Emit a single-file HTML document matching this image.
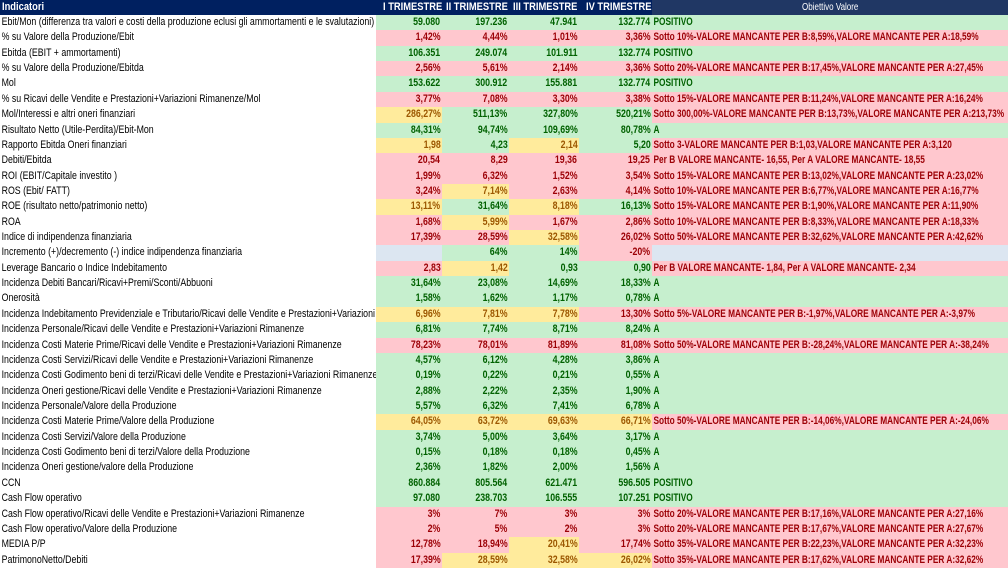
<!DOCTYPE html>
<html><head><meta charset="utf-8"><style>
body{margin:0;width:1008px;height:567px;overflow:hidden;background:#fff;font-family:"Liberation Sans",sans-serif;font-size:11px}
.h{position:absolute;left:0;top:0;width:1008px;height:15px;background:#002060;color:#fff;font-weight:bold}
.h div{position:absolute;top:0;height:15px;line-height:15px;white-space:nowrap}
.r{position:relative;height:15.37px;line-height:15.37px;white-space:nowrap}
.r>div{position:absolute;top:0;height:100%;overflow:visible}
.l{left:0;width:376px}
.c1{left:376px;width:66px}.c2{left:442px;width:67px}.c3{left:509px;width:70px}.c4{left:579px;width:73px}
.o{left:652px;width:356px}
.n{text-align:right;font-weight:bold}
.n span{display:inline-block;transform:scaleX(.8);transform-origin:right;padding-right:2px}
.l span,.o span{display:inline-block;transform:scaleX(.8);transform-origin:left;padding-left:2px}
.o span{font-weight:bold;transform:scaleX(.755)}
.G{background:#c6efce;color:#006100}.R{background:#ffc7ce;color:#9c0006}.Y{background:#ffeb9c;color:#9c5700}.B{background:#dce6f1}
#rows{position:absolute;top:15px;left:0;width:1008px}
</style></head><body>
<div class="h">
<div style="left:383px;transform:scaleX(.85);transform-origin:left">I TRIMESTRE</div>
<div style="left:2px;transform:scaleX(.85);transform-origin:left">Indicatori</div>
<div style="left:446px;transform:scaleX(.85);transform-origin:left">II TRIMESTRE</div>
<div style="left:513px;transform:scaleX(.85);transform-origin:left">III TRIMESTRE</div>
<div style="left:586px;transform:scaleX(.85);transform-origin:left">IV TRIMESTRE</div>
<div style="left:652px;width:356px;background:#203764;text-align:center;font-weight:normal;font-size:10px"><span style="display:inline-block;transform:scaleX(.8)">Obiettivo Valore</span></div>
</div>
<div id="rows">
<div class="r"><div class="l"><span>Ebit/Mon (differenza tra valori e costi della produzione eclusi gli ammortamenti e le svalutazioni)</span></div><div class="c1 n G"><span>59.080</span></div><div class="c2 n G"><span>197.236</span></div><div class="c3 n G"><span>47.941</span></div><div class="c4 n G"><span>132.774</span></div><div class="o G"><span>POSITIVO</span></div></div>
<div class="r"><div class="l"><span>% su Valore della Produzione/Ebit</span></div><div class="c1 n R"><span>1,42%</span></div><div class="c2 n R"><span>4,44%</span></div><div class="c3 n R"><span>1,01%</span></div><div class="c4 n R"><span>3,36%</span></div><div class="o R"><span>Sotto 10%-VALORE MANCANTE PER B:8,59%,VALORE MANCANTE PER A:18,59%</span></div></div>
<div class="r"><div class="l"><span>Ebitda (EBIT + ammortamenti)</span></div><div class="c1 n G"><span>106.351</span></div><div class="c2 n G"><span>249.074</span></div><div class="c3 n G"><span>101.911</span></div><div class="c4 n G"><span>132.774</span></div><div class="o G"><span>POSITIVO</span></div></div>
<div class="r"><div class="l"><span>% su Valore della Produzione/Ebitda</span></div><div class="c1 n R"><span>2,56%</span></div><div class="c2 n R"><span>5,61%</span></div><div class="c3 n R"><span>2,14%</span></div><div class="c4 n R"><span>3,36%</span></div><div class="o R"><span>Sotto 20%-VALORE MANCANTE PER B:17,45%,VALORE MANCANTE PER A:27,45%</span></div></div>
<div class="r"><div class="l"><span>Mol</span></div><div class="c1 n G"><span>153.622</span></div><div class="c2 n G"><span>300.912</span></div><div class="c3 n G"><span>155.881</span></div><div class="c4 n G"><span>132.774</span></div><div class="o G"><span>POSITIVO</span></div></div>
<div class="r"><div class="l"><span>% su Ricavi delle Vendite e Prestazioni+Variazioni Rimanenze/Mol</span></div><div class="c1 n R"><span>3,77%</span></div><div class="c2 n R"><span>7,08%</span></div><div class="c3 n R"><span>3,30%</span></div><div class="c4 n R"><span>3,38%</span></div><div class="o R"><span>Sotto 15%-VALORE MANCANTE PER B:11,24%,VALORE MANCANTE PER A:16,24%</span></div></div>
<div class="r"><div class="l"><span>Mol/Interessi e altri oneri finanziari</span></div><div class="c1 n Y"><span>286,27%</span></div><div class="c2 n G"><span>511,13%</span></div><div class="c3 n G"><span>327,80%</span></div><div class="c4 n G"><span>520,21%</span></div><div class="o R"><span>Sotto 300,00%-VALORE MANCANTE PER B:13,73%,VALORE MANCANTE PER A:213,73%</span></div></div>
<div class="r"><div class="l"><span>Risultato Netto (Utile-Perdita)/Ebit-Mon</span></div><div class="c1 n G"><span>84,31%</span></div><div class="c2 n G"><span>94,74%</span></div><div class="c3 n G"><span>109,69%</span></div><div class="c4 n G"><span>80,78%</span></div><div class="o G"><span>A</span></div></div>
<div class="r"><div class="l"><span>Rapporto Ebitda Oneri finanziari</span></div><div class="c1 n Y"><span>1,98</span></div><div class="c2 n G"><span>4,23</span></div><div class="c3 n Y"><span>2,14</span></div><div class="c4 n G"><span>5,20</span></div><div class="o R"><span>Sotto 3-VALORE MANCANTE PER B:1,03,VALORE MANCANTE PER A:3,120</span></div></div>
<div class="r"><div class="l"><span>Debiti/Ebitda</span></div><div class="c1 n R"><span>20,54</span></div><div class="c2 n R"><span>8,29</span></div><div class="c3 n R"><span>19,36</span></div><div class="c4 n R"><span>19,25</span></div><div class="o R"><span>Per B VALORE MANCANTE- 16,55, Per A VALORE MANCANTE- 18,55</span></div></div>
<div class="r"><div class="l"><span>ROI (EBIT/Capitale investito )</span></div><div class="c1 n R"><span>1,99%</span></div><div class="c2 n R"><span>6,32%</span></div><div class="c3 n R"><span>1,52%</span></div><div class="c4 n R"><span>3,54%</span></div><div class="o R"><span>Sotto 15%-VALORE MANCANTE PER B:13,02%,VALORE MANCANTE PER A:23,02%</span></div></div>
<div class="r"><div class="l"><span>ROS (Ebit/ FATT)</span></div><div class="c1 n R"><span>3,24%</span></div><div class="c2 n Y"><span>7,14%</span></div><div class="c3 n R"><span>2,63%</span></div><div class="c4 n R"><span>4,14%</span></div><div class="o R"><span>Sotto 10%-VALORE MANCANTE PER B:6,77%,VALORE MANCANTE PER A:16,77%</span></div></div>
<div class="r"><div class="l"><span>ROE (risultato netto/patrimonio netto)</span></div><div class="c1 n Y"><span>13,11%</span></div><div class="c2 n G"><span>31,64%</span></div><div class="c3 n Y"><span>8,18%</span></div><div class="c4 n G"><span>16,13%</span></div><div class="o R"><span>Sotto 15%-VALORE MANCANTE PER B:1,90%,VALORE MANCANTE PER A:11,90%</span></div></div>
<div class="r"><div class="l"><span>ROA</span></div><div class="c1 n R"><span>1,68%</span></div><div class="c2 n Y"><span>5,99%</span></div><div class="c3 n R"><span>1,67%</span></div><div class="c4 n R"><span>2,86%</span></div><div class="o R"><span>Sotto 10%-VALORE MANCANTE PER B:8,33%,VALORE MANCANTE PER A:18,33%</span></div></div>
<div class="r"><div class="l"><span>Indice di indipendenza finanziaria</span></div><div class="c1 n R"><span>17,39%</span></div><div class="c2 n R"><span>28,59%</span></div><div class="c3 n Y"><span>32,58%</span></div><div class="c4 n R"><span>26,02%</span></div><div class="o R"><span>Sotto 50%-VALORE MANCANTE PER B:32,62%,VALORE MANCANTE PER A:42,62%</span></div></div>
<div class="r"><div class="l"><span>Incremento (+)/decremento (-) indice indipendenza finanziaria</span></div><div class="c1 n B"><span></span></div><div class="c2 n G"><span>64%</span></div><div class="c3 n G"><span>14%</span></div><div class="c4 n R"><span>-20%</span></div><div class="o B"><span></span></div></div>
<div class="r"><div class="l"><span>Leverage Bancario o Indice Indebitamento</span></div><div class="c1 n R"><span>2,83</span></div><div class="c2 n Y"><span>1,42</span></div><div class="c3 n G"><span>0,93</span></div><div class="c4 n G"><span>0,90</span></div><div class="o R"><span>Per B VALORE MANCANTE- 1,84, Per A VALORE MANCANTE- 2,34</span></div></div>
<div class="r"><div class="l"><span>Incidenza Debiti Bancari/Ricavi+Premi/Sconti/Abbuoni</span></div><div class="c1 n G"><span>31,64%</span></div><div class="c2 n G"><span>23,08%</span></div><div class="c3 n G"><span>14,69%</span></div><div class="c4 n G"><span>18,33%</span></div><div class="o G"><span>A</span></div></div>
<div class="r"><div class="l"><span>Onerosità</span></div><div class="c1 n G"><span>1,58%</span></div><div class="c2 n G"><span>1,62%</span></div><div class="c3 n G"><span>1,17%</span></div><div class="c4 n G"><span>0,78%</span></div><div class="o G"><span>A</span></div></div>
<div class="r"><div class="l"><span>Incidenza Indebitamento Previdenziale e Tributario/Ricavi delle Vendite e Prestazioni+Variazioni</span></div><div class="c1 n Y"><span>6,96%</span></div><div class="c2 n Y"><span>7,81%</span></div><div class="c3 n Y"><span>7,78%</span></div><div class="c4 n R"><span>13,30%</span></div><div class="o R"><span>Sotto 5%-VALORE MANCANTE PER B:-1,97%,VALORE MANCANTE PER A:-3,97%</span></div></div>
<div class="r"><div class="l"><span>Incidenza Personale/Ricavi delle Vendite e Prestazioni+Variazioni Rimanenze</span></div><div class="c1 n G"><span>6,81%</span></div><div class="c2 n G"><span>7,74%</span></div><div class="c3 n G"><span>8,71%</span></div><div class="c4 n G"><span>8,24%</span></div><div class="o G"><span>A</span></div></div>
<div class="r"><div class="l"><span>Incidenza Costi Materie Prime/Ricavi delle Vendite e Prestazioni+Variazioni Rimanenze</span></div><div class="c1 n R"><span>78,23%</span></div><div class="c2 n R"><span>78,01%</span></div><div class="c3 n R"><span>81,89%</span></div><div class="c4 n R"><span>81,08%</span></div><div class="o R"><span>Sotto 50%-VALORE MANCANTE PER B:-28,24%,VALORE MANCANTE PER A:-38,24%</span></div></div>
<div class="r"><div class="l"><span>Incidenza Costi Servizi/Ricavi delle Vendite e Prestazioni+Variazioni Rimanenze</span></div><div class="c1 n G"><span>4,57%</span></div><div class="c2 n G"><span>6,12%</span></div><div class="c3 n G"><span>4,28%</span></div><div class="c4 n G"><span>3,86%</span></div><div class="o G"><span>A</span></div></div>
<div class="r"><div class="l"><span>Incidenza Costi Godimento beni di terzi/Ricavi delle Vendite e Prestazioni+Variazioni Rimanenze</span></div><div class="c1 n G"><span>0,19%</span></div><div class="c2 n G"><span>0,22%</span></div><div class="c3 n G"><span>0,21%</span></div><div class="c4 n G"><span>0,55%</span></div><div class="o G"><span>A</span></div></div>
<div class="r"><div class="l"><span>Incidenza Oneri gestione/Ricavi delle Vendite e Prestazioni+Variazioni Rimanenze</span></div><div class="c1 n G"><span>2,88%</span></div><div class="c2 n G"><span>2,22%</span></div><div class="c3 n G"><span>2,35%</span></div><div class="c4 n G"><span>1,90%</span></div><div class="o G"><span>A</span></div></div>
<div class="r"><div class="l"><span>Incidenza Personale/Valore della Produzione</span></div><div class="c1 n G"><span>5,57%</span></div><div class="c2 n G"><span>6,32%</span></div><div class="c3 n G"><span>7,41%</span></div><div class="c4 n G"><span>6,78%</span></div><div class="o G"><span>A</span></div></div>
<div class="r"><div class="l"><span>Incidenza Costi Materie Prime/Valore della Produzione</span></div><div class="c1 n Y"><span>64,05%</span></div><div class="c2 n Y"><span>63,72%</span></div><div class="c3 n Y"><span>69,63%</span></div><div class="c4 n Y"><span>66,71%</span></div><div class="o R"><span>Sotto 50%-VALORE MANCANTE PER B:-14,06%,VALORE MANCANTE PER A:-24,06%</span></div></div>
<div class="r"><div class="l"><span>Incidenza Costi Servizi/Valore della Produzione</span></div><div class="c1 n G"><span>3,74%</span></div><div class="c2 n G"><span>5,00%</span></div><div class="c3 n G"><span>3,64%</span></div><div class="c4 n G"><span>3,17%</span></div><div class="o G"><span>A</span></div></div>
<div class="r"><div class="l"><span>Incidenza Costi Godimento beni di terzi/Valore della Produzione</span></div><div class="c1 n G"><span>0,15%</span></div><div class="c2 n G"><span>0,18%</span></div><div class="c3 n G"><span>0,18%</span></div><div class="c4 n G"><span>0,45%</span></div><div class="o G"><span>A</span></div></div>
<div class="r"><div class="l"><span>Incidenza Oneri gestione/valore della Produzione</span></div><div class="c1 n G"><span>2,36%</span></div><div class="c2 n G"><span>1,82%</span></div><div class="c3 n G"><span>2,00%</span></div><div class="c4 n G"><span>1,56%</span></div><div class="o G"><span>A</span></div></div>
<div class="r"><div class="l"><span>CCN</span></div><div class="c1 n G"><span>860.884</span></div><div class="c2 n G"><span>805.564</span></div><div class="c3 n G"><span>621.471</span></div><div class="c4 n G"><span>596.505</span></div><div class="o G"><span>POSITIVO</span></div></div>
<div class="r"><div class="l"><span>Cash Flow operativo</span></div><div class="c1 n G"><span>97.080</span></div><div class="c2 n G"><span>238.703</span></div><div class="c3 n G"><span>106.555</span></div><div class="c4 n G"><span>107.251</span></div><div class="o G"><span>POSITIVO</span></div></div>
<div class="r"><div class="l"><span>Cash Flow operativo/Ricavi delle Vendite e Prestazioni+Variazioni Rimanenze</span></div><div class="c1 n R"><span>3%</span></div><div class="c2 n R"><span>7%</span></div><div class="c3 n R"><span>3%</span></div><div class="c4 n R"><span>3%</span></div><div class="o R"><span>Sotto 20%-VALORE MANCANTE PER B:17,16%,VALORE MANCANTE PER A:27,16%</span></div></div>
<div class="r"><div class="l"><span>Cash Flow operativo/Valore della Produzione</span></div><div class="c1 n R"><span>2%</span></div><div class="c2 n R"><span>5%</span></div><div class="c3 n R"><span>2%</span></div><div class="c4 n R"><span>3%</span></div><div class="o R"><span>Sotto 20%-VALORE MANCANTE PER B:17,67%,VALORE MANCANTE PER A:27,67%</span></div></div>
<div class="r"><div class="l"><span>MEDIA P/P</span></div><div class="c1 n R"><span>12,78%</span></div><div class="c2 n R"><span>18,94%</span></div><div class="c3 n Y"><span>20,41%</span></div><div class="c4 n R"><span>17,74%</span></div><div class="o R"><span>Sotto 35%-VALORE MANCANTE PER B:22,23%,VALORE MANCANTE PER A:32,23%</span></div></div>
<div class="r"><div class="l"><span>PatrimonoNetto/Debiti</span></div><div class="c1 n R"><span>17,39%</span></div><div class="c2 n Y"><span>28,59%</span></div><div class="c3 n Y"><span>32,58%</span></div><div class="c4 n Y"><span>26,02%</span></div><div class="o R"><span>Sotto 35%-VALORE MANCANTE PER B:17,62%,VALORE MANCANTE PER A:32,62%</span></div></div>
</div>
</body></html>
